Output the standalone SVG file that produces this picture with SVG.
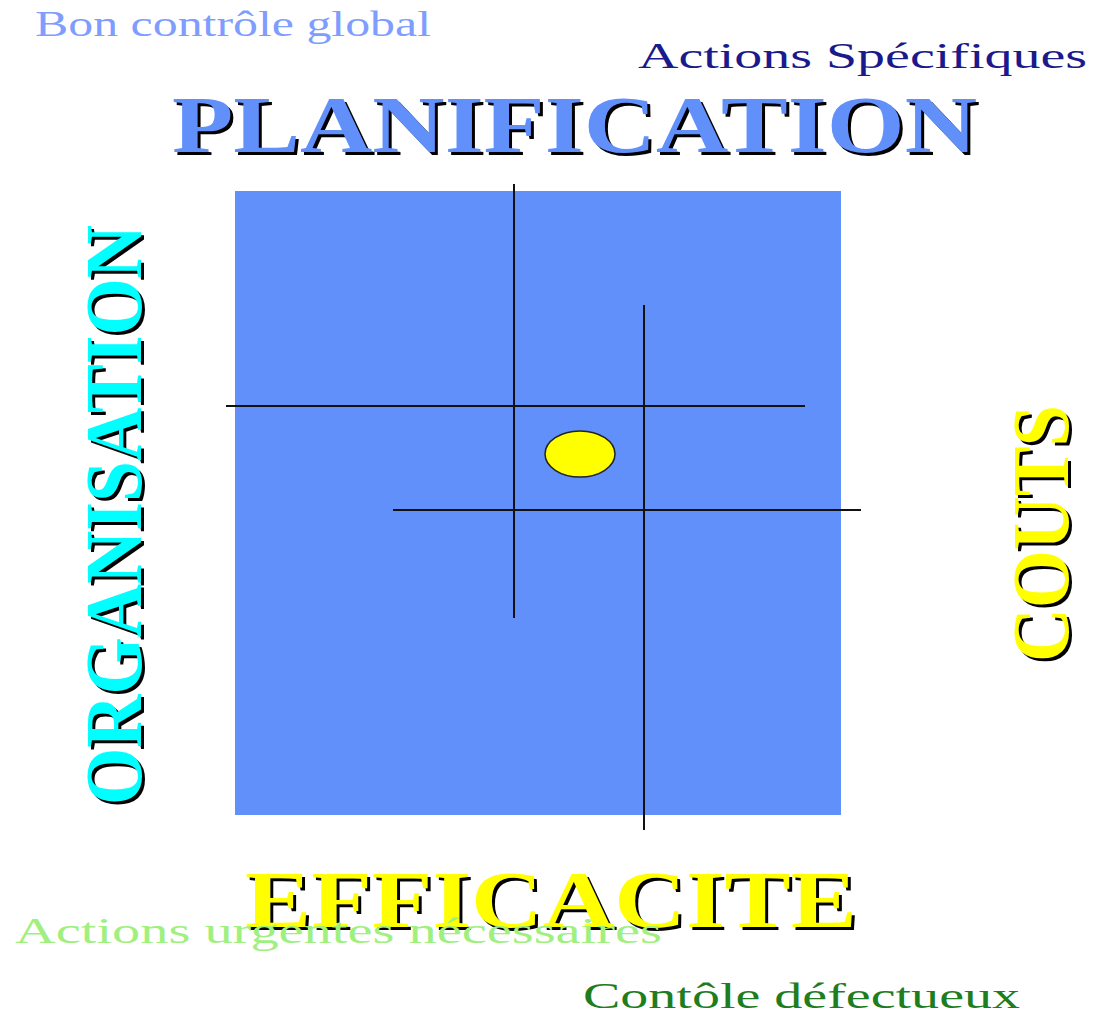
<svg xmlns="http://www.w3.org/2000/svg" width="1094" height="1016" viewBox="0 0 1094 1016">
  <style>
    .big { font-family: "Liberation Serif", "Times New Roman", serif; font-weight: bold; font-size: 80px; }
    .shadow { fill: #000; }
    .small { font-family: "Liberation Serif", "Times New Roman", serif; font-size: 36px; }
    .axis { stroke: #111; stroke-width: 2; fill: none; }
  </style>
  <rect width="1094" height="1016" fill="#fff"/>

  <!-- central field -->
  <g id="field">
    <rect x="235" y="191" width="606" height="624" fill="#6190fb"/>
  </g>

  <!-- cross lines -->
  <g id="connectors">
    <line class="axis" x1="514" y1="184" x2="514" y2="618"/>
    <line class="axis" x1="644" y1="305" x2="644" y2="830"/>
    <line class="axis" x1="226" y1="406" x2="805" y2="406"/>
    <line class="axis" x1="393" y1="510" x2="861" y2="510"/>
  </g>

  <g id="point">
    <ellipse cx="580" cy="454" rx="35" ry="23" fill="#ffff00" stroke="#222" stroke-width="1.5"/>
  </g>

  <!-- heading labels with drop shadow -->
  <g id="planification">
    <text class="big shadow" x="175" y="155" textLength="805" lengthAdjust="spacingAndGlyphs">PLANIFICATION</text>
    <text class="big" x="172" y="152" fill="#6190fb" textLength="805" lengthAdjust="spacingAndGlyphs">PLANIFICATION</text>
  </g>

  <g id="organisation">
    <text class="big shadow" transform="translate(144 808) rotate(-90)" x="0" y="0" textLength="580" lengthAdjust="spacingAndGlyphs">ORGANISATION</text>
    <text class="big" transform="translate(141 805) rotate(-90)" x="0" y="0" fill="#00ffff" textLength="580" lengthAdjust="spacingAndGlyphs">ORGANISATION</text>
  </g>

  <g id="couts">
    <text class="big shadow" transform="translate(1071 665) rotate(-90)" x="0" y="0" textLength="257" lengthAdjust="spacingAndGlyphs">COUTS</text>
    <text class="big" transform="translate(1068 662) rotate(-90)" x="0" y="0" fill="#ffff00" textLength="257" lengthAdjust="spacingAndGlyphs">COUTS</text>
  </g>

  <g id="efficacite">
    <text class="big shadow" x="248" y="930" textLength="612" lengthAdjust="spacingAndGlyphs">EFFICACITE</text>
    <text class="big" x="245" y="927" fill="#ffff00" textLength="612" lengthAdjust="spacingAndGlyphs">EFFICACITE</text>
  </g>

  <!-- corner notes -->
  <g id="bon-controle">
    <text class="small" x="35" y="36" fill="#7f9cff" textLength="396" lengthAdjust="spacingAndGlyphs">Bon contrôle global</text>
  </g>
  <g id="actions-specifiques">
    <text class="small" x="638" y="68" fill="#1a1a8c" textLength="449" lengthAdjust="spacingAndGlyphs">Actions Spécifiques</text>
  </g>
  <g id="actions-urgentes">
    <text class="small" x="15" y="943" fill="#a0f080" textLength="647" lengthAdjust="spacingAndGlyphs">Actions urgentes nécessaires</text>
  </g>
  <g id="controle-defectueux">
    <text class="small" x="583" y="1008" fill="#1e7d1e" textLength="437" lengthAdjust="spacingAndGlyphs">Contôle défectueux</text>
  </g>
</svg>
